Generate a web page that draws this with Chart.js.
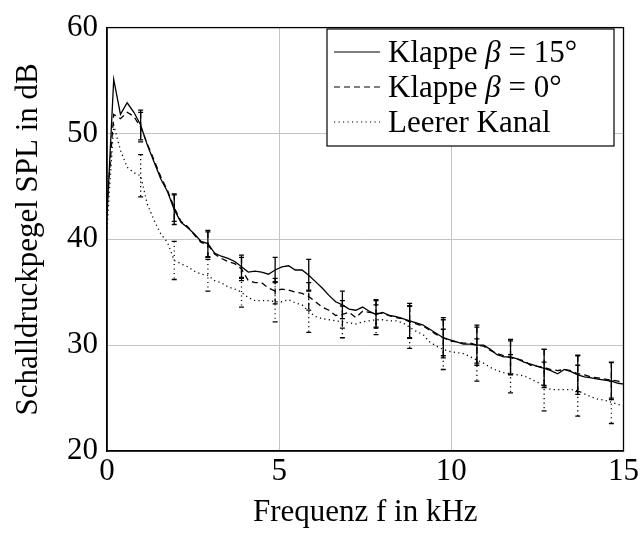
<!DOCTYPE html>
<html>
<head>
<meta charset="utf-8">
<script src="https://cdn.jsdelivr.net/npm/chart.js@4.4.1/dist/chart.umd.min.js"></script>
<style>
  html, body { margin: 0; padding: 0; background: #fff; }
  #chart { display: block; }
</style>
</head>
<body>
<canvas id="chart" width="641" height="534"></canvas>
<script>
// frequency bins in kHz
const freq = [0, 0.195, 0.391, 0.586, 0.781, 0.977, 1.172, 1.367, 1.563, 1.758,
  1.953, 2.148, 2.344, 2.539, 2.734, 2.930, 3.125, 3.320, 3.516, 3.711,
  3.906, 4.102, 4.297, 4.492, 4.688, 4.883, 5.078, 5.273, 5.469, 5.664,
  5.859, 6.055, 6.250, 6.445, 6.641, 6.836, 7.031, 7.227, 7.422, 7.617,
  7.813, 8.008, 8.203, 8.398, 8.594, 8.789, 8.984, 9.180, 9.375, 9.570,
  9.766, 9.961, 10.156, 10.352, 10.547, 10.742, 10.938, 11.133, 11.328, 11.523,
  11.719, 11.914, 12.109, 12.305, 12.500, 12.695, 12.891, 13.086, 13.281, 13.477,
  13.672, 13.867, 14.063, 14.258, 14.453, 14.648, 14.844, 15.039];

const klappe15 = [42.2, 55.1, 51.8, 52.9, 52.0, 50.8, 48.9, 47.3, 45.7, 44.5,
  42.8, 41.6, 41.1, 40.5, 39.8, 39.6, 38.7, 38.4, 38.2, 37.9,
  37.4, 36.9, 37.0, 36.9, 36.7, 37.1, 37.4, 37.5, 37.1, 37.1,
  36.6, 36.0, 35.4, 34.7, 34.1, 33.8, 33.4, 33.3, 33.6, 33.2,
  32.9, 33.1, 32.8, 32.7, 32.5, 32.3, 32.1, 31.9, 31.5, 31.1,
  30.7, 30.5, 30.3, 30.1, 30.1, 30.0, 30.0, 29.6, 29.1, 28.9,
  28.9, 28.7, 28.4, 28.2, 28.0, 27.8, 27.6, 27.3, 27.7, 27.5,
  27.2, 27.0, 26.9, 26.8, 26.7, 26.6, 26.4, 26.3];

const klappe0 = [43.0, 51.8, 51.4, 52.0, 51.6, 50.6, 49.0, 47.5, 45.9, 44.6,
  43.0, 41.7, 41.2, 40.4, 39.7, 39.5, 38.6, 38.2, 37.9, 37.7,
  37.2, 36.1, 35.9, 35.9, 35.4, 35.1, 35.3, 35.2, 35.0, 34.9,
  34.6, 34.1, 33.6, 33.3, 32.8, 32.9, 33.1, 32.6, 33.2, 33.1,
  33.0, 33.0, 32.8, 32.6, 32.5, 32.2, 32.0, 31.8, 31.4, 31.0,
  30.7, 30.4, 30.3, 30.2, 30.2, 30.0, 29.9, 29.5, 29.2, 29.0,
  28.8, 28.7, 28.5, 28.1, 28.0, 27.9, 27.7, 27.6, 27.7, 27.6,
  27.3, 27.2, 27.0, 26.9, 26.8, 26.7, 26.6, 26.4];

const leer = [41.0, 50.8, 48.4, 46.8, 46.3, 46.0, 43.3, 41.8, 40.5, 39.7,
  38.0, 37.7, 37.4, 37.0, 36.7, 36.6, 36.1, 35.9, 35.5, 35.3,
  35.0, 34.5, 34.2, 34.2, 34.2, 34.1, 34.1, 34.3, 34.0, 33.8,
  33.2, 32.7, 32.5, 32.4, 32.3, 32.2, 32.1, 32.0, 32.2, 32.3,
  32.4, 32.4, 32.3, 32.3, 32.1, 31.7, 31.3, 31.0, 30.3, 29.9,
  29.6, 29.4, 29.3, 29.2, 28.9, 28.6, 28.3, 27.9, 27.6, 27.4,
  27.3, 27.2, 27.1, 26.8, 26.5, 26.1, 25.8, 25.8, 25.8, 25.8,
  25.7, 25.4, 25.1, 24.9, 24.8, 24.6, 24.4, 24.2];

// error bars (± dB) at these frequencies
const errFreq = [0.977, 1.953, 2.930, 3.906, 4.883, 5.859, 6.836, 7.813,
  8.789, 9.766, 10.742, 11.719, 12.695, 13.672, 14.648];
const errKlappe15 = [1.4, 1.4, 1.25, 1.1, 1.2, 1.5, 1.3, 1.3, 1.65, 1.9, 1.9, 1.65, 1.8, 1.85, 1.75];
const errKlappe0 = [1.4, 1.3, 1.2, 1.1, 1.2, 1.3, 1.3, 1.3, 1.5, 1.7, 1.7, 1.6, 1.7, 1.7, 1.7];
const errLeer = [2.0, 1.8, 1.5, 1.4, 1.9, 2.0, 1.5, 1.4, 2.0, 1.9, 2.0, 1.8, 2.3, 2.4, 2.0];

const xTicks = [0, 5, 10, 15];
const yTicks = [20, 30, 40, 50, 60];

const FONT = "'Liberation Serif', 'DejaVu Serif', serif";
const fontMain = { family: FONT, size: 31 };

const toPoints = vals => vals.map((v, i) => ({ x: freq[i], y: v }));

const series = [
  { label: 'Klappe β = 15°', data: klappe15, err: errKlappe15, dash: [] },
  { label: 'Klappe β = 0°', data: klappe0, err: errKlappe0, dash: [6, 4] },
  { label: 'Leerer Kanal', data: leer, err: errLeer, dash: [1.2, 3.3] }
];

// error bars, frame and legend drawn on top
const extrasPlugin = {
  id: 'extras',
  afterDatasetsDraw(chart) {
    const { ctx, chartArea: a, scales: { x, y } } = chart;
    ctx.save();
    ctx.beginPath();
    ctx.rect(a.left, a.top, a.right - a.left, a.bottom - a.top);
    ctx.clip();
    ctx.strokeStyle = '#000';
    ctx.lineWidth = 1.3;
    series.forEach(s => {
      ctx.setLineDash(s.dash);
      errFreq.forEach((f, k) => {
        const idx = freq.indexOf(f);
        const v = s.data[idx];
        const px = x.getPixelForValue(f);
        const top = y.getPixelForValue(v + s.err[k]);
        const bot = y.getPixelForValue(v - s.err[k]);
        ctx.beginPath();
        ctx.moveTo(px, top);
        ctx.lineTo(px, bot);
        ctx.stroke();
        ctx.setLineDash([]);
        ctx.beginPath();
        ctx.moveTo(px - 2.5, top); ctx.lineTo(px + 2.5, top);
        ctx.moveTo(px - 2.5, bot); ctx.lineTo(px + 2.5, bot);
        ctx.stroke();
        ctx.setLineDash(s.dash);
      });
    });
    ctx.restore();
  },
  afterDraw(chart) {
    const { ctx, chartArea: a } = chart;
    ctx.save();
    ctx.strokeStyle = '#000';
    ctx.lineWidth = 1.3;
    ctx.setLineDash([]);
    ctx.strokeRect(a.left, a.top, a.right - a.left, a.bottom - a.top);

    // legend box
    const bx = 327, by = 29, bw = 287, bh = 117;
    ctx.fillStyle = '#fff';
    ctx.fillRect(bx, by, bw, bh);
    ctx.lineWidth = 1.2;
    ctx.strokeRect(bx, by, bw, bh);

    const rows = [52, 87, 122];
    series.forEach((s, i) => {
      const yy = rows[i];
      ctx.setLineDash(s.dash);
      ctx.lineWidth = 1.2;
      ctx.beginPath();
      ctx.moveTo(334, yy);
      ctx.lineTo(380, yy);
      ctx.stroke();
      ctx.setLineDash([]);

      ctx.fillStyle = '#000';
      ctx.textBaseline = 'middle';
      ctx.textAlign = 'left';
      let tx = 388;
      const parts = s.label.split('β');
      ctx.font = `31px ${FONT}`;
      ctx.fillText(parts[0], tx, yy + 2);
      tx += ctx.measureText(parts[0]).width;
      if (parts.length > 1) {
        ctx.font = `italic 31px ${FONT}`;
        ctx.fillText('β', tx, yy + 2);
        tx += ctx.measureText('β').width;
        ctx.font = `31px ${FONT}`;
        ctx.fillText(parts[1], tx, yy + 2);
      }
    });
    ctx.restore();
  }
};

new Chart(document.getElementById('chart'), {
  type: 'line',
  data: {
    datasets: series.map(s => ({
      label: s.label,
      data: toPoints(s.data),
      borderColor: '#000',
      borderWidth: 1.3,
      borderDash: s.dash,
      pointRadius: 0,
      tension: 0,
      fill: false
    }))
  },
  options: {
    responsive: false,
    animation: false,
    layout: { padding: { top: 20, right: 16, left: 0, bottom: 0 } },
    plugins: { legend: { display: false }, tooltip: { enabled: false } },
    scales: {
      x: {
        type: 'linear',
        min: 0, max: 15,
        afterBuildTicks: s => { s.ticks = xTicks.map(v => ({ value: v })); },
        afterFit: s => { s.height = 83; },
        ticks: { color: '#000', font: fontMain, padding: 2, maxRotation: 0 },
        grid: { color: '#c4c4c4', lineWidth: 1, drawTicks: false },
        border: { color: '#000', width: 1.3 },
        title: { display: true, text: 'Frequenz f in kHz', color: '#000', font: fontMain, padding: { top: 0, bottom: 3 } }
      },
      y: {
        min: 20, max: 60,
        afterBuildTicks: s => { s.ticks = yTicks.map(v => ({ value: v })); },
        afterFit: s => { s.width = 107; },
        ticks: { color: '#000', font: fontMain, padding: 9 },
        grid: { color: '#c4c4c4', lineWidth: 1, drawTicks: false },
        border: { color: '#000', width: 1.3 },
        title: { display: true, text: 'Schalldruckpegel SPL in dB', color: '#000', font: fontMain, padding: { top: 10, bottom: 0 } }
      }
    }
  },
  plugins: [extrasPlugin]
});
</script>
</body>
</html>
